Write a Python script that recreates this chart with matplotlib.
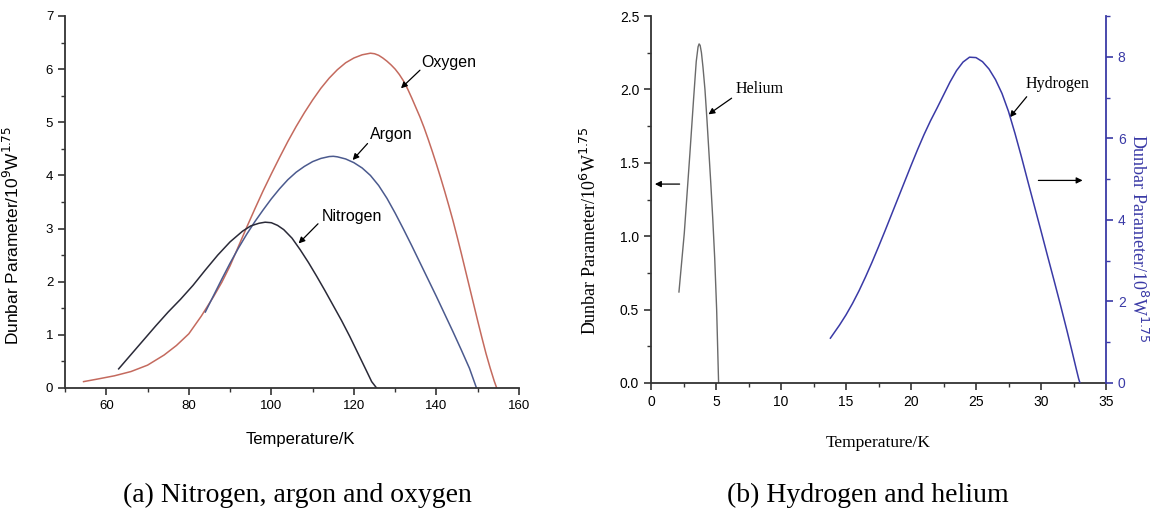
import matplotlib
matplotlib.use("Agg")
import matplotlib.pyplot as plt
from matplotlib.ticker import MultipleLocator, FormatStrFormatter

# ---- data ----
# (a) nitrogen, argon, oxygen  (Dunbar parameter / 1e9 W^1.75)
oxygen_T = [54.5, 58, 62, 66, 70, 74, 77, 80, 83, 86, 88, 90, 92, 94, 96, 98, 100,
            102, 104, 106, 108, 110, 112, 114, 116, 118, 120, 122, 124, 125, 126,
            127, 128, 129, 130, 131, 132, 133, 134, 135, 136, 137, 138, 139, 140,
            141, 142, 143, 144, 145, 146, 147, 148, 149, 150, 151, 152, 153, 154,
            154.6]
oxygen_D = [0.12, 0.17, 0.23, 0.31, 0.43, 0.62, 0.80, 1.02, 1.35, 1.72, 1.99, 2.30,
            2.66, 3.02, 3.37, 3.71, 4.03, 4.34, 4.64, 4.92, 5.18, 5.42, 5.64, 5.83,
            5.99, 6.12, 6.21, 6.27, 6.30, 6.29, 6.26, 6.21, 6.15, 6.08, 6.00, 5.90,
            5.78, 5.63, 5.46, 5.28, 5.10, 4.90, 4.68, 4.45, 4.21, 3.96, 3.70, 3.43,
            3.15, 2.85, 2.54, 2.22, 1.90, 1.58, 1.26, 0.95, 0.65, 0.38, 0.13, 0.0]

argon_T = [84, 86, 88, 90, 92, 94, 96, 98, 100, 102, 104, 106, 108, 110, 112, 114,
           115, 116, 118, 120, 122, 124, 126, 128, 130, 132, 134, 136, 138, 140,
           142, 144, 146, 148, 149.7]
argon_D = [1.43, 1.74, 2.05, 2.35, 2.63, 2.89, 3.13, 3.35, 3.56, 3.75, 3.92, 4.06,
           4.17, 4.26, 4.32, 4.355, 4.36, 4.35, 4.31, 4.24, 4.14, 4.00, 3.81, 3.57,
           3.29, 2.99, 2.68, 2.36, 2.04, 1.72, 1.39, 1.06, 0.72, 0.37, 0.0]

nitrogen_T = [63, 66, 69, 72, 75, 78, 81, 84, 87, 90, 93, 95, 97, 98.5, 100, 101.5,
              103, 105, 107, 109, 111, 113, 115, 117, 119, 121, 123, 124.3, 125.5]
nitrogen_D = [0.36, 0.63, 0.90, 1.17, 1.43, 1.67, 1.93, 2.22, 2.50, 2.75, 2.95, 3.05,
              3.10, 3.12, 3.11, 3.06, 2.98, 2.82, 2.60, 2.36, 2.10, 1.83, 1.55, 1.27,
              0.97, 0.65, 0.33, 0.12, 0.0]

# (b) helium (left axis, 1e6) and hydrogen (right axis, 1e8)
helium_T = [2.15, 2.56, 2.99, 3.28, 3.48, 3.62, 3.70, 3.78, 3.88, 4.0, 4.15, 4.3,
            4.45, 4.6, 4.75, 4.9, 5.05, 5.2]
helium_D = [0.62, 1.02, 1.56, 1.94, 2.19, 2.29, 2.31, 2.30, 2.25, 2.15, 2.00, 1.80,
            1.58, 1.36, 1.12, 0.85, 0.50, 0.0]

hydrogen_T = [13.8, 14.5, 15, 15.5, 16, 16.5, 17, 17.5, 18, 18.5, 19, 19.5, 20, 20.5,
              21, 21.5, 22, 22.5, 23, 23.5, 24, 24.5, 25, 25.5, 26, 26.5, 27, 27.5,
              28, 28.5, 29, 29.5, 30, 30.5, 31, 31.5, 32, 32.4, 32.7, 32.9, 33.0]
hydrogen_D = [1.10, 1.42, 1.67, 1.95, 2.26, 2.60, 2.96, 3.34, 3.73, 4.13, 4.53, 4.93,
              5.33, 5.72, 6.09, 6.43, 6.74, 7.06, 7.38, 7.66, 7.87, 7.99, 7.98, 7.88,
              7.70, 7.44, 7.10, 6.66, 6.12, 5.54, 4.93, 4.33, 3.73, 3.12, 2.52, 1.91,
              1.28, 0.76, 0.36, 0.10, 0.0]

sans = "Liberation Sans"
serif = "Liberation Serif"
axis_col = "#333333"
h_blue = "#3a3aa6"

fig = plt.figure(figsize=(11.61, 5.13), dpi=100)

# ---------------- panel (a) ----------------
ax1 = fig.add_axes([65/1161, 1-388/513, 454/1161, 372/513])
ax1.plot(oxygen_T, oxygen_D, color="#c46a5e", lw=1.1)
ax1.plot(argon_T, argon_D, color="#4b5a8e", lw=1.1)
ax1.plot(nitrogen_T, nitrogen_D, color="#2a2a38", lw=1.1)

ax1.set_xlim(50, 160)
ax1.set_ylim(0, 7)
ax1.xaxis.set_major_locator(MultipleLocator(20))
ax1.xaxis.set_minor_locator(MultipleLocator(10))
ax1.yaxis.set_major_locator(MultipleLocator(1))
ax1.yaxis.set_minor_locator(MultipleLocator(0.5))
ax1.spines["top"].set_visible(False)
ax1.spines["right"].set_visible(False)
for s in ["left", "bottom"]:
    ax1.spines[s].set_color(axis_col)
    ax1.spines[s].set_linewidth(1.3)
ax1.tick_params(which="major", length=5, width=1.2, color=axis_col, labelsize=9.5)
ax1.tick_params(which="minor", length=3, width=1.0, color=axis_col)
for lab in ax1.get_xticklabels() + ax1.get_yticklabels():
    lab.set_fontfamily(sans)
ax1.set_xlabel("Temperature/K", fontfamily=sans, fontsize=12)
ax1.set_ylabel(r"Dunbar Parameter/10$^{9}$W$^{1.75}$", fontfamily=sans, fontsize=12.5)
ax1.xaxis.set_label_coords(0.518, -0.117)
ax1.yaxis.set_label_coords(-0.095, 0.41)

arrow_kw = dict(arrowstyle="-|>", color="black", lw=0.9, mutation_scale=9,
                shrinkA=0, shrinkB=0)
ax1.text(136.3, 6.12, "Oxygen", fontfamily=sans, fontsize=11.5, va="center")
ax1.annotate("", xy=(131.4, 5.64), xytext=(136.0, 5.98), arrowprops=arrow_kw)
ax1.text(123.8, 4.77, "Argon", fontfamily=sans, fontsize=11.5, va="center")
ax1.annotate("", xy=(119.7, 4.29), xytext=(123.3, 4.60), arrowprops=arrow_kw)
ax1.text(112.1, 3.23, "Nitrogen", fontfamily=sans, fontsize=11.5, va="center")
ax1.annotate("", xy=(106.6, 2.72), xytext=(111.3, 3.09), arrowprops=arrow_kw)

# ---------------- panel (b) ----------------
ax2 = fig.add_axes([651/1161, 1-383/513, 455/1161, 367/513])
ax2.plot(helium_T, helium_D, color="#6a6a6a", lw=1.0)
ax2.set_xlim(0, 35)
ax2.set_ylim(0, 2.5)
ax2.xaxis.set_major_locator(MultipleLocator(5))
ax2.xaxis.set_minor_locator(MultipleLocator(2.5))
ax2.yaxis.set_major_locator(MultipleLocator(0.5))
ax2.yaxis.set_minor_locator(MultipleLocator(0.25))
ax2.yaxis.set_major_formatter(FormatStrFormatter("%.1f"))
ax2.spines["top"].set_visible(False)
ax2.spines["right"].set_visible(False)
for s in ["left", "bottom"]:
    ax2.spines[s].set_color(axis_col)
    ax2.spines[s].set_linewidth(1.3)
ax2.tick_params(which="major", length=5, width=1.2, color=axis_col, labelsize=10)
ax2.tick_params(which="minor", length=3, width=1.0, color=axis_col)
for lab in ax2.get_xticklabels() + ax2.get_yticklabels():
    lab.set_fontfamily(sans)
ax2.set_xlabel("Temperature/K", fontfamily=serif, fontsize=12.5)
ax2.set_ylabel(r"Dunbar Parameter/10$^{6}$W$^{1.75}$", fontfamily=serif, fontsize=13)
ax2.xaxis.set_label_coords(0.5, -0.142)
ax2.yaxis.set_label_coords(-0.111, 0.414)

ax3 = ax2.twinx()
ax3.plot(hydrogen_T, hydrogen_D, color=h_blue, lw=1.1)
ax3.set_ylim(0, 9)
ax3.yaxis.set_major_locator(MultipleLocator(2))
ax3.yaxis.set_minor_locator(MultipleLocator(1))
for s in ["left", "top", "bottom"]:
    ax3.spines[s].set_visible(False)
ax3.spines["right"].set_color(h_blue)
ax3.spines["right"].set_linewidth(1.3)
ax3.tick_params(which="major", length=5, width=1.2, color=h_blue, labelcolor=h_blue,
                labelsize=10)
ax3.tick_params(which="minor", length=3, width=1.0, color=h_blue)
for lab in ax3.get_yticklabels():
    lab.set_fontfamily(sans)
ax3.set_ylabel(r"Dunbar Parameter/10$^{8}$W$^{1.75}$", fontfamily=serif, fontsize=13,
               color=h_blue, rotation=270)
ax3.yaxis.set_label_coords(1.092, 0.395)

ax2.text(6.5, 2.0, "Helium", fontfamily=serif, fontsize=11.5, va="center")
ax2.annotate("", xy=(4.42, 1.83), xytext=(6.2, 1.94), arrowprops=arrow_kw)
ax2.text(28.8, 2.04, "Hydrogen", fontfamily=serif, fontsize=11.5, va="center")
ax2.annotate("", xy=(27.6, 1.81), xytext=(28.9, 1.95), arrowprops=arrow_kw)
# arrows pointing to the axis each curve uses
ax2.annotate("", xy=(0.3, 1.355), xytext=(2.2, 1.355), arrowprops=arrow_kw)
ax2.annotate("", xy=(33.2, 1.38), xytext=(29.8, 1.38), arrowprops=arrow_kw)

# captions
fig.text(297/1161, 1-495/513, "(a) Nitrogen, argon and oxygen", fontfamily=serif,
         fontsize=20, ha="center", va="center")
fig.text(868/1161, 1-495/513, "(b) Hydrogen and helium", fontfamily=serif,
         fontsize=20, ha="center", va="center")

fig.savefig("out.png", dpi=100)
